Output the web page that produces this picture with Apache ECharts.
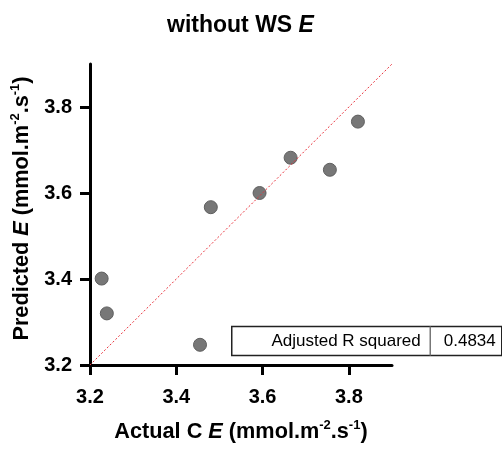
<!DOCTYPE html>
<html>
<head>
<meta charset="utf-8">
<script src="https://cdn.jsdelivr.net/npm/echarts@6/dist/echarts.min.js"></script>
<style>
  html, body { margin: 0; padding: 0; background: #fff; }
  #chart { width: 502px; height: 449px; }
</style>
</head>
<body>
<div id="chart"></div>
<script>
// Observed vs model-predicted transpiration (E), model without WS
const actualE = [3.227, 3.239, 3.455, 3.480, 3.593, 3.665, 3.756, 3.821];
const predictedE = [3.401, 3.320, 3.247, 3.567, 3.600, 3.682, 3.654, 3.766];

// 1:1 reference line
const identityX = [3.2, 3.9];
const identityY = [3.2, 3.9];

// Tick labels shown on both axes
const tickValues = [3.2, 3.4, 3.6, 3.8];

// Fit statistic
const statLabel = 'Adjusted R squared';
const statValue = '0.4834';

const FONT = '"Liberation Sans", Arial, sans-serif';

const points = actualE.map((x, i) => [x, predictedE[i]]);
const identity = identityX.map((x, i) => [x, identityY[i]]);

const nameRich = {
  b: { fontFamily: FONT, fontWeight: 'bold', fontSize: 21.7, color: '#000', lineHeight: 26 },
  i: { fontFamily: FONT, fontWeight: 'bold', fontStyle: 'italic', fontSize: 21.7, color: '#000', lineHeight: 26 },
  s: { fontFamily: FONT, fontWeight: 'bold', fontSize: 13, color: '#000', verticalAlign: 'top', lineHeight: 13 }
};

function axisCommon() {
  return {
    type: 'value',
    min: 3.2,
    max: 3.9,
    interval: 0.2,
    axisLine: { show: true, lineStyle: { color: '#000', width: 3 } },
    axisTick: { show: true, customValues: tickValues, length: 10, lineStyle: { color: '#000', width: 3 } },
    axisLabel: {
      customValues: tickValues,
      fontFamily: FONT, fontWeight: 'bold', fontSize: 20, color: '#000',
      formatter: v => v.toFixed(1)
    },
    splitLine: { show: false },
    nameLocation: 'middle'
  };
}

const chart = echarts.init(document.getElementById('chart'), null, { renderer: 'canvas' });

chart.setOption({
  backgroundColor: '#fff',
  animation: false,
  title: {
    text: '{a|without WS }{b|E}',
    left: 162,
    top: 9,
    textStyle: {
      rich: {
        a: { fontFamily: FONT, fontWeight: 'bold', fontSize: 23, color: '#000' },
        b: { fontFamily: FONT, fontWeight: 'bold', fontStyle: 'italic', fontSize: 23, color: '#000' }
      }
    }
  },
  grid: { left: 90, top: 64, right: 110, bottom: 84, containLabel: false },
  xAxis: Object.assign(axisCommon(), {
    name: '{b|Actual C }{i|E}{b| (mmol.m}{s|-2}{b|.s}{s|-1}{b|)}',
    nameGap: 54,
    nameTextStyle: { rich: nameRich },
    axisLabel: Object.assign(axisCommon().axisLabel, { margin: 22 })
  }),
  yAxis: Object.assign(axisCommon(), {
    name: '{b|Predicted }{i|E}{b| (mmol.m}{s|-2}{b|.s}{s|-1}{b|)}',
    nameGap: 50,
    nameRotate: 90,
    nameTextStyle: { rich: nameRich, padding: [0, 0, 0, 12] },
    axisLabel: Object.assign(axisCommon().axisLabel, { margin: 18 })
  }),
  series: [
    {
      type: 'scatter',
      data: points,
      symbol: 'circle',
      symbolSize: 13,
      itemStyle: { color: '#777777', borderColor: '#5f5f5f', borderWidth: 1, opacity: 1 },
      z: 2
    },
    {
      type: 'line',
      data: identity,
      showSymbol: false,
      symbol: 'none',
      lineStyle: { color: '#e8323c', width: 1, type: [2, 2] },
      z: 3,
      silent: true
    }
  ],
  graphic: [
    {
      type: 'group',
      left: 231,
      top: 324,
      children: [
        { type: 'rect', shape: { x: 0, y: 0, width: 270, height: 29 },
          style: { fill: '#fff', stroke: '#222', lineWidth: 1.5 } },
        { type: 'line', shape: { x1: 198.5, y1: 0, x2: 198.5, y2: 29 },
          style: { stroke: '#777', lineWidth: 1.5 } },
        { type: 'text', x: 189, y: 15,
          style: { text: statLabel, font: '17px ' + FONT, fill: '#000', align: 'right', verticalAlign: 'middle' } },
        { type: 'text', x: 238, y: 15,
          style: { text: statValue, font: '17px ' + FONT, fill: '#000', align: 'center', verticalAlign: 'middle' } }
      ]
    }
  ]
});
</script>
</body>
</html>
